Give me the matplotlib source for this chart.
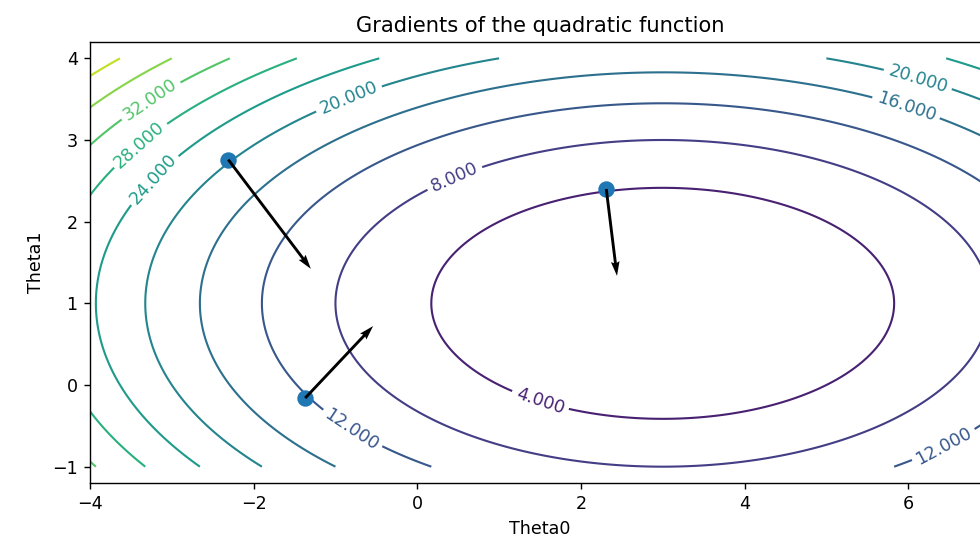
import numpy as np
import matplotlib
matplotlib.use("Agg")
import matplotlib.pyplot as plt
from matplotlib.colors import Normalize

# quadratic f(t0, t1) = a*(t0 - c0)^2 + b*(t1 - c1)^2
coef_a, coef_b = 0.5, 2.0
center = (3.0, 1.0)

theta0_range = (-4.0, 7.0)
theta1_range = (-1.0, 4.0)
levels = [4, 8, 12, 16, 20, 24, 28, 32, 36, 40, 44]

# sample points where the gradient is drawn
pts_theta0 = [-2.31, -1.37, 2.31]
pts_theta1 = [2.76, -0.16, 2.40]
arrow_step = 0.19

# where the contour labels sit
label_pos = [(-3.27, 3.50), (-3.43, 2.98), (-3.24, 2.53), (-0.86, 3.56),
             (6.12, 3.75), (5.99, 3.44), (0.43, 2.59), (1.50, -0.20),
             (-0.82, -0.57), (6.47, -0.80)]


def f(t0, t1):
    return coef_a * (t0 - center[0]) ** 2 + coef_b * (t1 - center[1]) ** 2


def grad(t0, t1):
    return 2 * coef_a * (t0 - center[0]), 2 * coef_b * (t1 - center[1])


t0 = np.linspace(*theta0_range, 400)
t1 = np.linspace(*theta1_range, 300)
T0, T1 = np.meshgrid(t0, t1)
Z = f(T0, T1)

px = np.array(pts_theta0)
py = np.array(pts_theta1)
gx, gy = grad(px, py)

DPI = 126
fig = plt.figure(figsize=(980 / DPI, 546 / DPI), dpi=DPI)
ax = fig.add_axes([90 / 980, 63 / 546, 900 / 980, 441 / 546])

cs = ax.contour(T0, T1, Z, levels=levels, cmap="viridis",
                norm=Normalize(vmin=0, vmax=44), linewidths=1.2)
ax.clabel(cs, fmt="%1.3f", manual=label_pos, inline=True)

ax.scatter(px, py, s=70, color="#1f77b4", zorder=3)
ax.quiver(px, py, -gx * arrow_step, -gy * arrow_step, angles="xy",
          scale_units="xy", scale=1, color="black", width=0.0032, zorder=4)

ax.set_xlim(-4, 7)
ax.set_ylim(-1.2, 4.2)
ax.set_xticks([-4, -2, 0, 2, 4, 6])
ax.set_yticks([-1, 0, 1, 2, 3, 4])
ax.set_title("Gradients of the quadratic function", fontsize=12)
ax.set_xlabel("Theta0")
ax.set_ylabel("Theta1")

fig.savefig("out.png", dpi=DPI)
